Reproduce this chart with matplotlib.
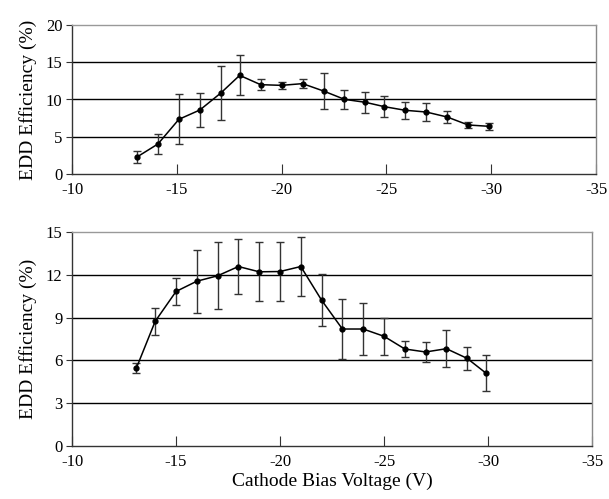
import matplotlib
matplotlib.use("Agg")
import matplotlib.pyplot as plt

# Top panel data
x_top = [-13.1, -14.1, -15.1, -16.1, -17.1, -18.0, -19.0, -20.0, -21.0, -22.0,
         -23.0, -24.0, -24.9, -25.9, -26.9, -27.9, -28.9, -29.9]
y_top = [2.28, 4.03, 7.34, 8.59, 10.87, 13.24, 11.99, 11.9, 12.13, 11.14,
         10.02, 9.62, 9.04, 8.55, 8.32, 7.65, 6.58, 6.4]
e_top = [0.76, 1.34, 3.35, 2.3, 3.58, 2.7, 0.74, 0.45, 0.63, 2.48,
         1.25, 1.39, 1.45, 1.16, 1.16, 0.78, 0.42, 0.47]

# Bottom panel data
x_bot = [-13.1, -14.0, -15.0, -16.0, -17.0, -18.0, -19.0, -20.0, -21.0, -22.0,
         -23.0, -24.0, -25.0, -26.0, -27.0, -28.0, -29.0, -29.9]
y_bot = [5.48, 8.74, 10.83, 11.55, 11.93, 12.58, 12.21, 12.23, 12.58, 10.22,
         8.2, 8.2, 7.69, 6.8, 6.59, 6.82, 6.14, 5.11]
e_bot = [0.35, 0.96, 0.96, 2.21, 2.36, 1.92, 2.06, 2.1, 2.06, 1.82,
         2.12, 1.82, 1.3, 0.59, 0.73, 1.28, 0.79, 1.24]

x_ticks = [-10, -15, -20, -25, -30, -35]
top_yticks = [0, 5, 10, 15, 20]
bot_yticks = [0, 3, 6, 9, 12, 15]

plt.rcParams['font.family'] = ['Liberation Serif', 'DejaVu Serif']

fig = plt.figure(figsize=(6.09, 4.99), dpi=100)
ax1 = fig.add_axes([72/609, 1-174/499, 524/609, 149/499])
ax2 = fig.add_axes([72/609, 1-446/499, 520/609, 214/499])

def style(ax, x, y, e, yticks):
    ax.errorbar(x, y, yerr=e, color='black', ecolor='#333333', elinewidth=1.0,
                capsize=3, capthick=1.0, marker='o', markersize=3.5, lw=1.1, zorder=3)
    ax.set_xlim(-10, -35)
    ax.set_ylim(yticks[0], yticks[-1])
    ax.set_xticks(x_ticks)
    ax.set_yticks(yticks)
    ax.set_xticklabels([str(t) for t in x_ticks])
    ax.set_yticklabels([str(t) for t in yticks])
    ax.tick_params(axis='x', direction='in', length=7, labelsize=12, pad=6, color='#333333')
    ax.tick_params(axis='y', direction='out', length=4, labelsize=12, pad=3, color='#333333')
    for yt in yticks[1:-1]:
        ax.axhline(yt, color='black', lw=1.0, zorder=1)
    ax.spines['left'].set_color('#333333')
    ax.spines['bottom'].set_color('#333333')
    ax.spines['top'].set_color('#999999')
    ax.spines['right'].set_color('#888888')
    for s in ax.spines.values():
        s.set_linewidth(1.0)
    ax.set_ylabel('EDD Efficiency (%)', fontsize=14, labelpad=6)

style(ax1, x_top, y_top, e_top, top_yticks)
style(ax2, x_bot, y_bot, e_bot, bot_yticks)
ax2.set_xlabel('Cathode Bias Voltage (V)', fontsize=14, labelpad=2)

fig.savefig('out.png', dpi=100)
